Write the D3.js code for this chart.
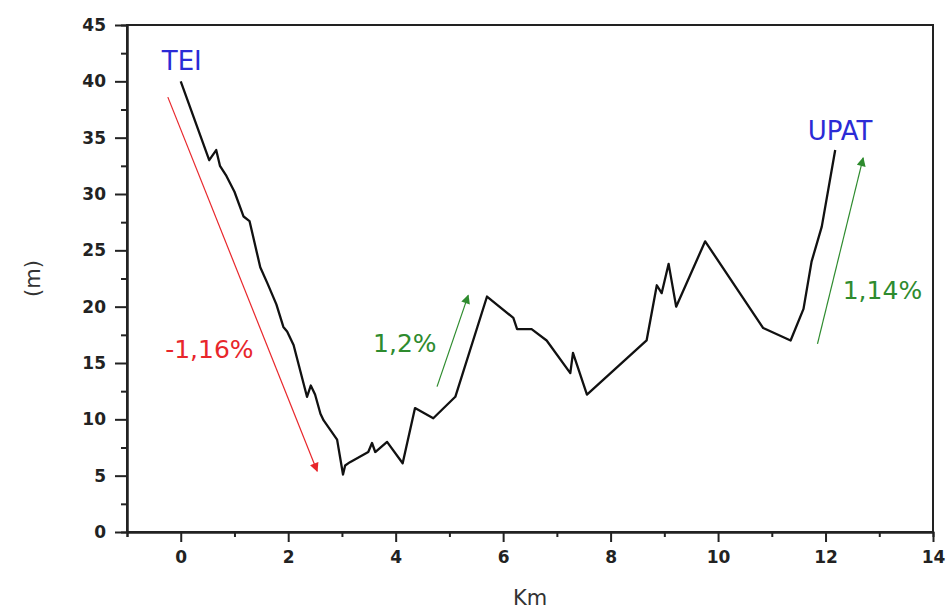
<html lang="en">
<head>
  <meta charset="UTF-8">
  <title>profile</title>
  <style>
    body { margin: 0; background: #fff; }
    svg { font-family: 'DejaVu Sans', sans-serif; }
    .tick text { font-size: 17px; font-weight: bold; fill: #222; font-family: 'DejaVu Sans', sans-serif; }
    .domain, .tick line { stroke: #222; stroke-width: 2; }
    .frame { fill: none; stroke: #222; stroke-width: 2; }
    .profile { fill: none; stroke: #111; stroke-width: 2.3; stroke-linejoin: round; }
    .axis-title { font-size: 21px; fill: #333; }
    .station { font-size: 26px; fill: #2b2bd6; }
    .slope { font-size: 25px; }
  </style>
</head>
<body>
  <script src="https://d3js.org/d3.v7.min.js"></script>
  <script>
    // elevation profile (km, m)
    var km = [0, 0.53, 0.66, 0.73, 0.85, 1.0, 1.17, 1.28, 1.48, 1.62, 1.78, 1.91, 1.98, 2.1,
      2.35, 2.42, 2.5, 2.6, 2.66, 2.91, 3.02, 3.06, 3.15, 3.49, 3.56, 3.62, 3.84, 4.13,
      4.36, 4.7, 5.11, 5.7, 6.19, 6.26, 6.53, 6.81, 7.25, 7.3, 7.56, 8.67, 8.86, 8.95,
      9.08, 9.22, 9.76, 10.84, 11.35, 11.59, 11.74, 11.93, 12.18];
    var elev = [40, 33, 33.9, 32.5, 31.6, 30.2, 28, 27.6, 23.5, 22, 20.2, 18.2, 17.8, 16.6,
      12, 13, 12.2, 10.5, 9.9, 8.2, 5.1, 5.9, 6.2, 7.1, 7.9, 7.1, 8, 6.1,
      11, 10.1, 12, 20.9, 19, 18, 18, 17, 14.1, 15.9, 12.2, 17, 21.9, 21.2,
      23.8, 20, 25.8, 18.1, 17, 19.8, 24, 27.1, 33.9];

    var xTicks = [0, 2, 4, 6, 8, 10, 12, 14];
    var yTicks = [0, 5, 10, 15, 20, 25, 30, 35, 40, 45];

    // slope arrows: [x1, y1, x2, y2]
    var slopeNames = ['-1,16%', '1,2%', '1,14%'];
    var slopeColors = ['#e8262b', '#2e8b2e', '#2e8b2e'];
    var slopeArrows = [[-0.24, 38.6, 2.54, 5.4], [4.77, 12.9, 5.35, 21.0], [11.85, 16.7, 12.7, 33.2]];
    var slopeLabelAt = [[-0.29, 15.45], [3.58, 15.95], [12.32, 20.65]];

    var stationNames = ['TEI', 'UPAT'];
    var stationAt = [[0.02, 41.0], [12.27, 34.8]];

    var W = 948, H = 609;
    var margin = {left: 127, right: 15, top: 25, bottom: 77};

    var svg = d3.select('body').append('svg')
      .attr('width', W)
      .attr('height', H);

    var x = d3.scaleLinear().domain([-1, 14]).range([margin.left, W - margin.right]);
    var y = d3.scaleLinear().domain([0, 45]).range([H - margin.bottom, margin.top]);

    // minor ticks
    svg.append('g')
      .attr('transform', 'translate(0,' + y(0) + ')')
      .call(d3.axisBottom(x).tickValues(d3.range(-1, 14, 2)).tickSize(5).tickFormat(''));
    svg.append('g')
      .attr('transform', 'translate(' + x(-1) + ',0)')
      .call(d3.axisLeft(y).tickValues(d3.range(2.5, 45, 5)).tickSize(6).tickFormat(''));

    svg.append('g')
      .attr('transform', 'translate(0,' + y(0) + ')')
      .call(d3.axisBottom(x).tickValues(xTicks).tickSize(10).tickPadding(9).tickSizeOuter(0));
    svg.append('g')
      .attr('transform', 'translate(' + x(-1) + ',0)')
      .call(d3.axisLeft(y).tickValues(yTicks).tickSize(12).tickPadding(9).tickSizeOuter(0));

    svg.append('rect')
      .attr('class', 'frame')
      .attr('x', x(-1)).attr('y', y(45))
      .attr('width', x(14) - x(-1)).attr('height', y(0) - y(45));

    svg.append('text')
      .attr('class', 'axis-title')
      .attr('x', (x(-1) + x(14)) / 2).attr('y', 605)
      .attr('text-anchor', 'middle')
      .text('Km');
    svg.append('text')
      .attr('class', 'axis-title')
      .attr('transform', 'translate(40,' + ((y(0) + y(45)) / 2) + ') rotate(-90)')
      .attr('text-anchor', 'middle')
      .text('(m)');

    var defs = svg.append('defs');
    slopeColors.forEach(function(c, i) {
      defs.append('marker')
        .attr('id', 'head' + i)
        .attr('viewBox', '0 0 10 10')
        .attr('refX', 9).attr('refY', 5)
        .attr('markerWidth', 10).attr('markerHeight', 9)
        .attr('markerUnits', 'userSpaceOnUse')
        .attr('orient', 'auto')
        .append('path')
        .attr('d', 'M0,0 L10,5 L0,10 Z')
        .attr('fill', c);
    });

    svg.selectAll('.slope-arrow')
      .data(slopeArrows)
      .enter().append('line')
      .attr('class', 'slope-arrow')
      .attr('x1', function(d) { return x(d[0]); })
      .attr('y1', function(d) { return y(d[1]); })
      .attr('x2', function(d) { return x(d[2]); })
      .attr('y2', function(d) { return y(d[3]); })
      .attr('stroke', function(d, i) { return slopeColors[i]; })
      .attr('stroke-width', 1.2)
      .attr('marker-end', function(d, i) { return 'url(#head' + i + ')'; });

    svg.selectAll('.slope')
      .data(slopeNames)
      .enter().append('text')
      .attr('class', 'slope')
      .attr('x', function(d, i) { return x(slopeLabelAt[i][0]); })
      .attr('y', function(d, i) { return y(slopeLabelAt[i][1]); })
      .attr('fill', function(d, i) { return slopeColors[i]; })
      .text(function(d) { return d; });

    var line = d3.line()
      .x(function(d) { return x(d[0]); })
      .y(function(d) { return y(d[1]); });

    svg.append('path')
      .datum(d3.zip(km, elev))
      .attr('class', 'profile')
      .attr('d', line);

    svg.selectAll('.station')
      .data(stationNames)
      .enter().append('text')
      .attr('class', 'station')
      .attr('x', function(d, i) { return x(stationAt[i][0]); })
      .attr('y', function(d, i) { return y(stationAt[i][1]); })
      .attr('text-anchor', 'middle')
      .text(function(d) { return d; });
  </script>
</body>
</html>
